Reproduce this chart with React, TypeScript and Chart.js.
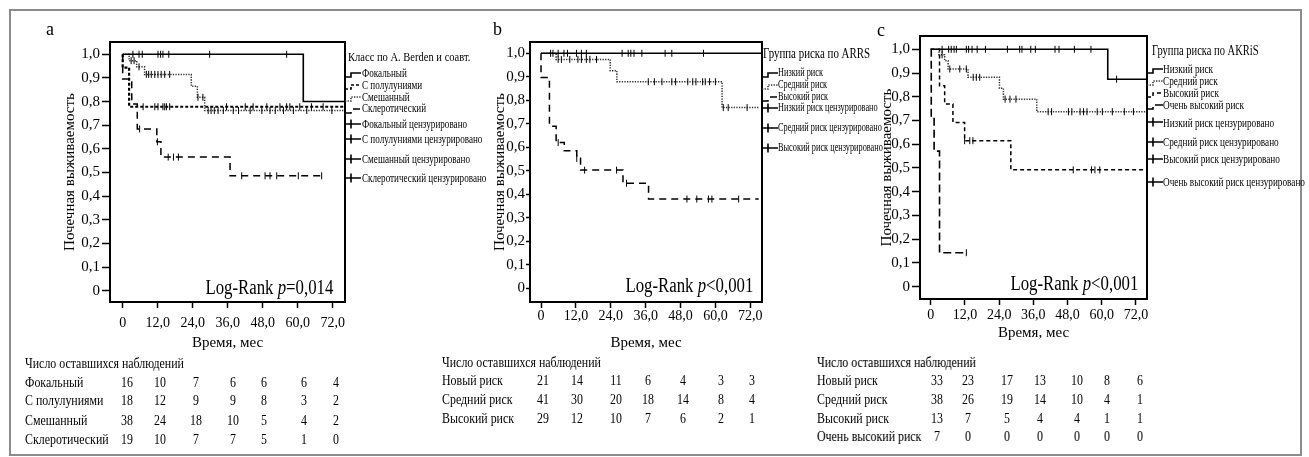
import React, { useEffect, useRef } from "react";
import { Chart, registerables } from "chart.js";

Chart.register(...registerables);

const FONT = "'Liberation Serif', 'Times New Roman', Times, serif";

// ---------- axis ticks ----------
const xTickValues = [0, 12, 24, 36, 48, 60, 72];
const xTickLabels = ["0", "12,0", "24,0", "36,0", "48,0", "60,0", "72,0"];
const yTickValues = [0, 0.1, 0.2, 0.3, 0.4, 0.5, 0.6, 0.7, 0.8, 0.9, 1.0];
const yTickLabels = ["0", "0,1", "0,2", "0,3", "0,4", "0,5", "0,6", "0,7", "0,8", "0,9", "1,0"];

// ---------- panel a: Класс по A. Berden ----------
const aFocalT = [0, 61.9, 76.2];
const aFocalS = [1, 0.8, 0.8];
const aFocalC = [3.5, 5.6, 6.7, 12.1, 13.0, 13.8, 15.8, 29.8, 56.2];

const aCrescT = [0, 0, 2.2, 76.2];
const aCrescS = [1, 0.944, 0.778, 0.778];
const aCrescC = [7.0, 11.0, 12.1, 13.8, 14.4, 15.0, 16.1, 35.6, 42.0, 44.7, 49.4, 53.9, 56.2, 57.3, 60.7, 64.7, 68.7];

const aMixedT = [0, 2.2, 4.8, 7.5, 23.5, 25.6, 28.1, 76.2];
const aMixedS = [1, 0.973, 0.947, 0.915, 0.865, 0.818, 0.762, 0.762];
const aMixedC = [2.9, 3.9, 5.6, 8.1, 8.9, 9.8, 11.0, 12.1, 13.2, 14.4, 16.1, 25.8, 27.5, 29.3, 30.3, 31.4, 32.7, 34.5, 37.9, 39.7, 43.7, 47.7, 50.5, 52.3, 55.1, 58.5, 63.1, 71.7];

const aSclerT = [0, 0, 3.1, 5.0, 11.7, 13.1, 36.8, 68.2];
const aSclerS = [1, 0.895, 0.79, 0.684, 0.63, 0.565, 0.486, 0.486];
const aSclerC = [5.8, 11.9, 15.6, 17.4, 19.1, 40.8, 48.8, 50.5, 52.8, 60.2, 68.2];

// ---------- panel b: ARRS ----------
const bLowT = [0, 76];
const bLowS = [1, 1];
const bLowC = [3.3, 4.1, 5.9, 7.9, 9.1, 12.2, 13.9, 15.6, 27.9, 30.0, 30.9, 32.0, 34.7, 42.7, 45.0, 55.9];

const bMidT = [0, 5.2, 23.8, 26.1, 62.3, 74.8];
const bMidS = [1, 0.974, 0.926, 0.879, 0.769, 0.769];
const bMidC = [5.9, 7.0, 9.9, 12.7, 13.9, 15.6, 16.8, 19.1, 36.9, 39.0, 41.6, 45.0, 46.3, 50.5, 52.2, 53.3, 55.6, 56.5, 58.0, 60.0, 62.7, 64.4, 70.9];

const bHighT = [0, 0, 2.9, 5.2, 8.0, 12.3, 13.6, 28.2, 37.0, 74.9];
const bHighS = [1, 0.897, 0.69, 0.62, 0.585, 0.553, 0.503, 0.447, 0.38, 0.38];
const bHighC = [5.9, 12.3, 15.0, 26.0, 29.4, 50.2, 53.6, 57.6, 58.8, 68.0];

// ---------- panel c: AKRiS ----------
const cLowT = [0, 62.1, 75.9];
const cLowS = [1, 0.874, 0.874];
const cLowC = [4.0, 6.3, 7.2, 8.2, 9.0, 12.5, 13.3, 14.5, 16.3, 19.2, 26.9, 31.2, 32.0, 35.1, 36.7, 43.6, 45.0, 50.4, 56.2, 65.2];

const cMidT = [0, 2.9, 4.9, 6.1, 13.1, 24.1, 25.5, 37.2, 75.9];
const cMidS = [1, 0.977, 0.952, 0.917, 0.882, 0.836, 0.79, 0.737, 0.737];
const cMidC = [4.0, 6.7, 10.2, 12.5, 14.9, 16.0, 17.2, 26.1, 27.8, 29.9, 41.2, 42.4, 48.3, 49.5, 52.4, 53.6, 54.8, 58.4, 60.2, 63.7, 67.9, 71.1];

const cHighT = [0, 3.1, 4.9, 7.8, 11.9, 28.1, 75.9];
const cHighS = [1, 0.846, 0.769, 0.692, 0.615, 0.492, 0.492];
const cHighC = [11.9, 13.7, 14.8, 50.0, 56.4, 57.6, 59.3];

const cVeryT = [0, 0.2, 1.2, 3.1, 12.5];
const cVeryS = [1, 0.714, 0.571, 0.143, 0.143];
const cVeryC = [12.5];

// ---------- legends ----------
const aLegendTitle = "Класс по A. Berden и соавт.";
const aLegendItems = ["Фокальный", "С полулуниями", "Смешанный", "Склеротический", "Фокальный цензурировано", "С полулуниями цензурировано", "Смешанный цензурировано", "Склеротический цензурировано"];
const bLegendTitle = "Группа риска по ARRS";
const bLegendItems = ["Низкий риск", "Средний риск", "Высокий риск", "Низкий риск цензурировано", "Средний риск цензурировано", "Высокий риск цензурировано"];
const cLegendTitle = "Группа риска по AKRiS";
const cLegendItems = ["Низкий риск", "Средний риск", "Высокий риск", "Очень высокий риск", "Низкий риск цензурировано", "Средний риск цензурировано", "Высокий риск цензурировано", "Очень высокий риск цензурировано"];

// ---------- number at risk ----------
const riskTitle = "Число оставшихся наблюдений";
const aRiskGroups = ["Фокальный", "С полулуниями", "Смешанный", "Склеротический"];
const aRiskFocal = [16, 10, 7, 6, 6, 6, 4];
const aRiskCresc = [18, 12, 9, 9, 8, 3, 2];
const aRiskMixed = [38, 24, 18, 10, 5, 4, 2];
const aRiskScler = [19, 10, 7, 7, 5, 1, 0];
const bRiskGroups = ["Новый риск", "Средний риск", "Высокий риск"];
const bRiskLow = [21, 14, 11, 6, 4, 3, 3];
const bRiskMid = [41, 30, 20, 18, 14, 8, 4];
const bRiskHigh = [29, 12, 10, 7, 6, 2, 1];
const cRiskGroups = ["Новый риск", "Средний риск", "Высокий риск", "Очень высокий риск"];
const cRiskLow = [33, 23, 17, 13, 10, 8, 6];
const cRiskMid = [38, 26, 19, 14, 10, 4, 1];
const cRiskHigh = [13, 7, 5, 4, 4, 1, 1];
const cRiskVery = [7, 0, 0, 0, 0, 0, 0];

const xTitle = "Время, мес";
const yTitle = "Почечная выживаемость";

// ---------- styles ----------
const LINE_STYLES: Record<string, { dash: number[]; width: number; color: string }> = {
  solid: { dash: [], width: 1.6, color: "#000" },
  fine: { dash: [1.3, 1.3], width: 1.5, color: "#333" },
  thick: { dash: [3, 2], width: 2.2, color: "#000" },
  dash: { dash: [7, 5], width: 1.5, color: "#000" },
  short: { dash: [4, 3], width: 1.5, color: "#000" },
  long: { dash: [8, 4], width: 1.6, color: "#000" },
};

type Series = { t: number[]; s: number[]; c: number[]; style: string };

function survivalAt(t: number[], s: number[], time: number) {
  let v = s[0];
  for (let i = 0; i < t.length; i++) if (t[i] <= time) v = s[i];
  return v;
}

function buildDatasets(series: Series[]) {
  const lines = series.map((sr) => {
    const st = LINE_STYLES[sr.style];
    return {
      data: sr.t.map((x, i) => ({ x, y: sr.s[i] })),
      borderColor: st.color,
      borderWidth: st.width,
      borderDash: st.dash,
      stepped: "before",
      pointRadius: 0,
      fill: false,
      order: 1,
    };
  });
  const marks = series.map((sr) => ({
    data: sr.c.map((x) => ({ x, y: survivalAt(sr.t, sr.s, x) })),
    showLine: false,
    pointStyle: "line",
    pointRotation: 90,
    pointRadius: 3.5,
    pointBorderWidth: 1,
    pointBorderColor: "#000",
    borderColor: "#000",
    borderDash: [],
    order: 0,
  }));
  return [...lines, ...marks];
}

const boxPlugin = {
  id: "box",
  afterDatasetsDraw(chart: any) {
    const { ctx, chartArea: a } = chart;
    ctx.save();
    ctx.strokeStyle = "#000";
    ctx.lineWidth = 2;
    ctx.setLineDash([]);
    ctx.strokeRect(a.left, a.top, a.right - a.left, a.bottom - a.top);
    ctx.restore();
  },
};

type PanelCfg = {
  left: number; top: number; width: number; height: number;
  padTop: number; padRight: number; yAxisW: number; xAxisH: number;
  xMin: number; xMax: number; yMin: number; yMax: number;
  yTickLen: number; yTickPad: number; xTickLen: number; xTickPad: number;
  yTitlePad: number; xTitlePad: number;
};

const PANEL_A: PanelCfg = { left: 40, top: 22, width: 320, height: 338, padTop: 20, padRight: 15, yAxisW: 70, xAxisH: 58, xMin: -4.35, xMax: 76.2, yMin: -0.048, yMax: 1.052, yTickLen: 8, yTickPad: 2, xTickLen: 6, xTickPad: 6.6, yTitlePad: 21, xTitlePad: 8 };
const PANEL_B: PanelCfg = { left: 470, top: 22, width: 307, height: 338, padTop: 20, padRight: 15, yAxisW: 60, xAxisH: 58, xMin: -3.79, xMax: 76.03, yMin: -0.058, yMax: 1.048, yTickLen: 4, yTickPad: 1, xTickLen: 6, xTickPad: 0, yTitlePad: 21, xTitlePad: 7.7 };
const PANEL_C: PanelCfg = { left: 860, top: 16, width: 302, height: 335, padTop: 20, padRight: 15, yAxisW: 60, xAxisH: 52, xMin: -3.75, xMax: 75.86, yMin: -0.052, yMax: 1.056, yTickLen: 8, yTickPad: 2, xTickLen: 6, xTickPad: 1.6, yTitlePad: 18.5, xTitlePad: 8.7 };

function makeConfig(p: PanelCfg, series: Series[]): any {
  return {
    type: "line",
    data: { datasets: buildDatasets(series) },
    options: {
      animation: false,
      responsive: false,
      devicePixelRatio: 1,
      layout: { padding: { top: p.padTop, right: p.padRight, left: 0, bottom: 0 } },
      plugins: { legend: { display: false }, tooltip: { enabled: false }, title: { display: false } },
      scales: {
        x: {
          type: "linear",
          min: p.xMin,
          max: p.xMax,
          afterBuildTicks: (s: any) => { s.ticks = xTickValues.map((v) => ({ value: v })); },
          afterFit: (s: any) => { s.height = p.xAxisH; },
          ticks: {
            callback: (_v: any, i: number) => xTickLabels[i],
            font: { family: FONT, size: 14 },
            color: "#000",
            padding: p.xTickPad,
            maxRotation: 0,
            autoSkip: false,
          },
          grid: { drawOnChartArea: false, drawTicks: true, tickLength: p.xTickLen, color: "#000", tickColor: "#000", tickWidth: 1.5 },
          border: { display: false },
          title: { display: true, text: xTitle, font: { family: FONT, size: 15 }, color: "#000", padding: { top: 0, bottom: p.xTitlePad } },
        },
        y: {
          type: "linear",
          min: p.yMin,
          max: p.yMax,
          afterBuildTicks: (s: any) => { s.ticks = yTickValues.map((v) => ({ value: v })); },
          afterFit: (s: any) => { s.width = p.yAxisW; },
          ticks: {
            callback: (_v: any, i: number) => yTickLabels[i],
            font: { family: FONT, size: 15 },
            color: "#000",
            padding: p.yTickPad,
            autoSkip: false,
          },
          grid: { drawOnChartArea: false, drawTicks: true, tickLength: p.yTickLen, color: "#000", tickColor: "#000", tickWidth: 1.5 },
          border: { display: false },
          title: { display: true, text: yTitle, font: { family: FONT, size: 15 }, color: "#000", padding: { top: p.yTitlePad, bottom: 0 } },
        },
      },
    },
    plugins: [boxPlugin],
  };
}

function Panel({ cfg, series }: { cfg: PanelCfg; series: Series[] }) {
  const ref = useRef<HTMLCanvasElement>(null);
  useEffect(() => {
    const chart = new Chart(ref.current as HTMLCanvasElement, makeConfig(cfg, series));
    return () => chart.destroy();
  }, []);
  return (
    <canvas
      ref={ref}
      width={cfg.width}
      height={cfg.height}
      style={{ position: "absolute", left: cfg.left, top: cfg.top, width: cfg.width, height: cfg.height }}
    />
  );
}

function Txt({ x, y, size, sx = 1, anchor = "left", children }: { x: number; y: number; size: number; sx?: number; anchor?: string; children: any }) {
  const style: any = {
    position: "absolute",
    top: y - size * 0.6,
    height: size * 1.2,
    lineHeight: `${size * 1.2}px`,
    fontSize: size,
    fontFamily: FONT,
    whiteSpace: "nowrap",
    color: "#000",
  };
  if (anchor === "left") {
    style.left = x;
    style.transform = `scaleX(${sx})`;
    style.transformOrigin = "left center";
  } else if (anchor === "right") {
    style.right = 1309 - x;
    style.transform = `scaleX(${sx})`;
    style.transformOrigin = "right center";
  } else {
    style.left = x;
    style.transform = `translateX(-50%) scaleX(${sx})`;
    style.transformOrigin = "center center";
  }
  return <div style={style}>{children}</div>;
}

function Marker({ x, y, kind, style }: { x: number; y: number; kind: string; style?: string }) {
  const st = style ? LINE_STYLES[style] : LINE_STYLES.solid;
  const d = kind === "step" ? "M0 10 H6 V6 H16" : "M0 6 H16 M6 1.5 V10.5";
  return (
    <svg width={16} height={12} style={{ position: "absolute", left: x, top: y - 6, overflow: "visible" }}>
      <path d={d} fill="none" stroke={st.color} strokeWidth={Math.min(st.width, 1.6)} strokeDasharray={kind === "step" && st.dash.length ? st.dash.join(" ") : undefined} />
    </svg>
  );
}

function Legend({ title, titleX, titleY, titleSize, titleSx, items, itemYs, markerX, textX, itemSize, itemSx, styles }: any) {
  const n = styles.length;
  return (
    <>
      <Txt x={titleX} y={titleY} size={titleSize} sx={titleSx}>{title}</Txt>
      {items.map((it: string, i: number) => (
        <React.Fragment key={i}>
          <Marker x={markerX} y={itemYs[i]} kind={i < n ? "step" : "cross"} style={i < n ? styles[i] : undefined} />
          <Txt x={textX} y={itemYs[i]} size={itemSize} sx={itemSx}>{it}</Txt>
        </React.Fragment>
      ))}
    </>
  );
}

function RiskTable({ titleX, titleY, groups, rows, rowYs, colXs }: any) {
  return (
    <>
      <Txt x={titleX} y={titleY} size={14} sx={0.85}>{riskTitle}</Txt>
      {groups.map((g: string, r: number) => (
        <React.Fragment key={r}>
          <Txt x={titleX} y={rowYs[r]} size={14} sx={0.85}>{g}</Txt>
          {rows[r].map((v: number, c: number) => (
            <Txt key={c} x={colXs[c]} y={rowYs[r]} size={14} sx={0.85} anchor="center">{String(v)}</Txt>
          ))}
        </React.Fragment>
      ))}
    </>
  );
}

const seriesA: Series[] = [
  { t: aFocalT, s: aFocalS, c: aFocalC, style: "solid" },
  { t: aCrescT, s: aCrescS, c: aCrescC, style: "thick" },
  { t: aMixedT, s: aMixedS, c: aMixedC, style: "fine" },
  { t: aSclerT, s: aSclerS, c: aSclerC, style: "dash" },
];
const seriesB: Series[] = [
  { t: bLowT, s: bLowS, c: bLowC, style: "solid" },
  { t: bMidT, s: bMidS, c: bMidC, style: "fine" },
  { t: bHighT, s: bHighS, c: bHighC, style: "dash" },
];
const seriesC: Series[] = [
  { t: cLowT, s: cLowS, c: cLowC, style: "solid" },
  { t: cMidT, s: cMidS, c: cMidC, style: "fine" },
  { t: cHighT, s: cHighS, c: cHighC, style: "short" },
  { t: cVeryT, s: cVeryS, c: cVeryC, style: "long" },
];

export default function App() {
  return (
    <div style={{ position: "fixed", left: 0, top: 0, width: 1309, height: 457, background: "#fff", overflow: "hidden", filter: "grayscale(100%)" }}>
      <div style={{ position: "absolute", left: 9, top: 9, width: 1293, height: 447, border: "2.5px solid #8c8c8c", boxSizing: "border-box" }} />

      <Panel cfg={PANEL_A} series={seriesA} />
      <Panel cfg={PANEL_B} series={seriesB} />
      <Panel cfg={PANEL_C} series={seriesC} />

      <Txt x={46} y={30} size={18}>a</Txt>
      <Txt x={493} y={30} size={18}>b</Txt>
      <Txt x={877} y={31} size={18}>c</Txt>

      <Txt x={333} y={287} size={20} sx={0.84} anchor="right">Log-Rank <i>p</i>=0,014</Txt>
      <Txt x={753} y={285} size={20} sx={0.84} anchor="right">Log-Rank <i>p</i>&lt;0,001</Txt>
      <Txt x={1138} y={283} size={20} sx={0.84} anchor="right">Log-Rank <i>p</i>&lt;0,001</Txt>

      <Legend title={aLegendTitle} titleX={348} titleY={56.7} titleSize={13} titleSx={0.81}
        items={aLegendItems} itemYs={[72.7, 85, 96.7, 108.5, 124, 139.3, 158.8, 178.3]}
        markerX={345} textX={361.7} itemSize={12} itemSx={0.76} styles={["solid", "thick", "fine", "dash"]} />
      <Legend title={bLegendTitle} titleX={763.3} titleY={54.3} titleSize={14} titleSx={0.78}
        items={bLegendItems} itemYs={[72.7, 85, 96.7, 108.3, 128.3, 148.3]}
        markerX={762} textX={777.7} itemSize={11.5} itemSx={0.72} styles={["solid", "fine", "dash"]} />
      <Legend title={cLegendTitle} titleX={1151.7} titleY={51.7} titleSize={14} titleSx={0.75}
        items={cLegendItems} itemYs={[69, 81, 92.7, 105, 122.3, 141.7, 159, 181.7]}
        markerX={1147} textX={1162.7} itemSize={13} itemSx={0.71} styles={["solid", "fine", "short", "long"]} />

      <RiskTable titleX={25} titleY={364} groups={aRiskGroups}
        rows={[aRiskFocal, aRiskCresc, aRiskMixed, aRiskScler]}
        rowYs={[383, 401.5, 421, 440]} colXs={[126.7, 160, 196, 232.5, 263.5, 303.5, 336]} />
      <RiskTable titleX={441.7} titleY={363.3} groups={bRiskGroups}
        rows={[bRiskLow, bRiskMid, bRiskHigh]}
        rowYs={[381.7, 400.7, 419.3]} colXs={[543.3, 576.7, 616, 648.3, 683.3, 720.7, 751.7]} />
      <RiskTable titleX={817} titleY={363} groups={cRiskGroups}
        rows={[cRiskLow, cRiskMid, cRiskHigh, cRiskVery]}
        rowYs={[381.7, 400, 419.3, 437.3]} colXs={[936.7, 968.3, 1006.7, 1040, 1076.7, 1106.7, 1140]} />
    </div>
  );
}
